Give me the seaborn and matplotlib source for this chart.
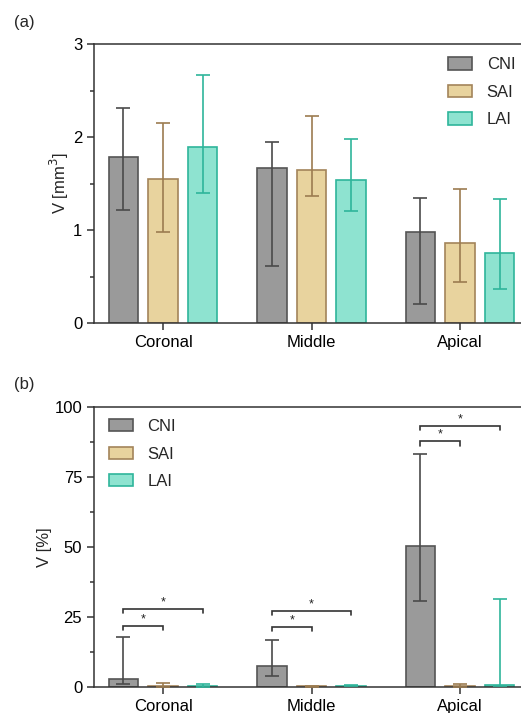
import numpy as np
import pandas as pd
import matplotlib
matplotlib.use("Agg")
import matplotlib.pyplot as plt
import seaborn as sns
from matplotlib.patches import Patch

sns.set_style("ticks")
plt.rcParams['font.family'] = ['Liberation Sans', 'DejaVu Sans']

regions = ["Coronal", "Middle", "Apical"]
groups = ["CNI", "SAI", "LAI"]

# Panel (a): V [mm^3] -- median with lower/upper whisker
a_vals = {"CNI": [1.78, 1.67, 0.98], "SAI": [1.55, 1.64, 0.86], "LAI": [1.89, 1.54, 0.75]}
a_low = {"CNI": [1.22, 0.61, 0.20], "SAI": [0.98, 1.37, 0.44], "LAI": [1.40, 1.20, 0.37]}
a_high = {"CNI": [2.31, 1.95, 1.34], "SAI": [2.15, 2.23, 1.44], "LAI": [2.67, 1.98, 1.33]}

# Panel (b): V [%]
b_vals = {"CNI": [3.0, 7.4, 50.4], "SAI": [0.2, 0.2, 0.2], "LAI": [0.3, 0.5, 0.8]}
b_low = {"CNI": [0.95, 4.05, 30.8], "SAI": [0.0, 0.0, 0.0], "LAI": [0.1, 0.2, 0.2]}
b_high = {"CNI": [17.7, 16.9, 83.2], "SAI": [1.4, 0.5, 1.2], "LAI": [0.95, 0.8, 31.4]}

# significance brackets in panel (b): (region, compared group, bracket level)
sig_region = ["Coronal", "Coronal", "Middle", "Middle", "Apical", "Apical"]
sig_group = ["SAI", "LAI", "SAI", "LAI", "SAI", "LAI"]
sig_level = [21.9, 27.9, 21.4, 27.1, 87.7, 93.3]
sig_label = ["*", "*", "*", "*", "*", "*"]

fills = {"CNI": "#9a9a9a", "SAI": "#e8d39e", "LAI": "#8ee3d0"}
edges = {"CNI": "#555555", "SAI": "#a3845a", "LAI": "#2fb59b"}
errc = {"CNI": "#4a4a4a", "SAI": "#9c7c50", "LAI": "#2fb59b"}

W, H = 521, 713
fig = plt.figure(figsize=(W / 100, H / 100), dpi=100)
ax_a = fig.add_axes([94 / W, 1 - 323 / H, (529 - 94) / W, (323 - 44) / H])
ax_b = fig.add_axes([94 / W, 1 - 687 / H, (529 - 94) / W, (687 - 407) / H])

spine_c = "#333333"


def draw(ax, vals, low, high, ymax, yticks, minor, ylabel, legend_loc, legend_anchor):
    rows = []
    for g in groups:
        for r, v in zip(regions, vals[g]):
            rows.append({"region": r, "group": g, "value": v})
    df = pd.DataFrame(rows)
    sns.barplot(data=df, x="region", y="value", hue="group", order=regions,
                hue_order=groups, palette=fills, errorbar=None, width=0.8,
                gap=0.25, ax=ax, legend=False, linewidth=1.2, saturation=1)
    centers = {}
    for g, cont in zip(groups, ax.containers):
        xs = []
        for p in cont.patches:
            p.set_edgecolor(edges[g])
            p.set_linewidth(1.2)
            xs.append(p.get_x() + p.get_width() / 2)
        centers[g] = xs
        v = np.array(vals[g]); lo = np.array(low[g]); hi = np.array(high[g])
        ax.errorbar(xs, v, yerr=[v - lo, hi - v], fmt='none', ecolor=errc[g],
                    elinewidth=1.2, capsize=5, capthick=1.2, zorder=5)
    ax.set_xlim(-0.465, 2.465)
    ax.set_ylim(0, ymax)
    ax.set_yticks(yticks)
    ax.set_yticks(minor, minor=True)
    ax.set_xlabel("")
    ax.set_ylabel(ylabel, fontsize=12, labelpad=1.5)
    ax.tick_params(axis='both', labelsize=12, colors=spine_c, width=1.1, length=5,
                   labelcolor='black')
    ax.tick_params(axis='y', which='minor', length=3, width=1.1, colors=spine_c)
    for s in ["left", "bottom", "top", "right"]:
        ax.spines[s].set_visible(True)
        ax.spines[s].set_color(spine_c)
        ax.spines[s].set_linewidth(1.1)
    handles = [Patch(facecolor=fills[g], edgecolor=edges[g], linewidth=1.2, label=g)
               for g in groups]
    ax.legend(handles=handles, loc=legend_loc, bbox_to_anchor=legend_anchor,
              frameon=False, fontsize=12, handlelength=1.45, handleheight=0.75,
              labelspacing=0.75, handletextpad=0.85)
    return centers


draw(ax_a, a_vals, a_low, a_high, 3, [0, 1, 2, 3], [0.5, 1.5, 2.5],
     "V [mm$^3$]", "upper left", (0.78, 1.006))
cent = draw(ax_b, b_vals, b_low, b_high, 100, [0, 25, 50, 75, 100],
            [12.5, 37.5, 62.5, 87.5], "V [%]", "upper left", (0.0, 1.01))

drop = 1.5
for r, g, lvl, lab in zip(sig_region, sig_group, sig_level, sig_label):
    i = regions.index(r)
    x0 = cent["CNI"][i]
    x1 = cent[g][i]
    ax_b.plot([x0, x0, x1, x1], [lvl - drop, lvl, lvl, lvl - drop], color="#333333",
              lw=1.2, zorder=6, solid_joinstyle='miter')
    ax_b.text((x0 + x1) / 2, lvl + 0.2, lab, ha='center', va='bottom', fontsize=9,
              color="#222222")

fig.text(14 / W, 1 - 22 / H, "(a)", fontsize=12, va='center', ha='left')
fig.text(14 / W, 1 - 385 / H, "(b)", fontsize=12, va='center', ha='left')

fig.savefig("out.png", dpi=100)
